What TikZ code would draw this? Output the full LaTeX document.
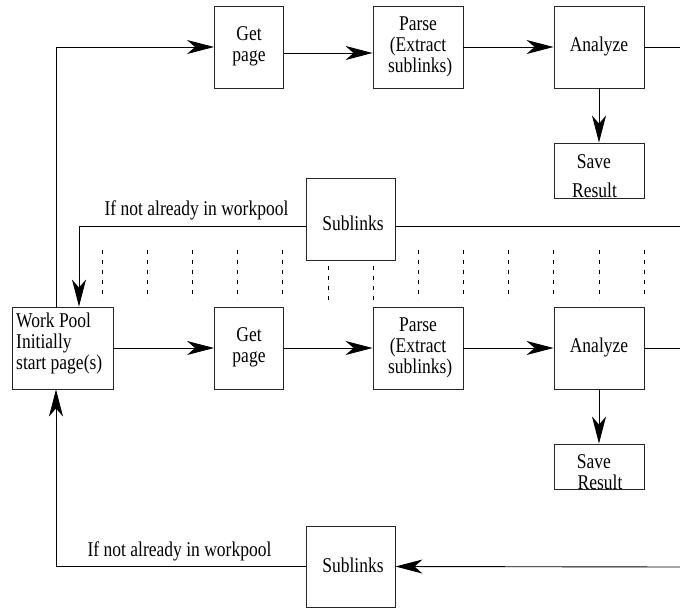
\documentclass[tikz,border=0pt]{standalone}
\usepackage{fontspec}
\setmainfont{Liberation Serif}
\usetikzlibrary{arrows.meta}
\newcommand\tb[2][c]{\scalebox{1}[1.2]{\begin{tabular}{@{}#1@{}}#2\end{tabular}}}
\begin{document}
\begin{tikzpicture}[x=1pt,y=-1pt,
  every node/.style={font=\fontsize{17.5}{17.5}\selectfont, inner sep=0pt},
  box/.style={draw=black!85, line width=0.9pt, minimum width=#1, rectangle},
  box/.default=90pt,
  conn/.style={line width=0.9pt},
  arr/.style={conn, -{Stealth[length=27pt,width=14pt,inset=8pt]}},
  dsh/.style={line width=0.7pt, dash pattern=on 4pt off 6pt}]
\useasboundingbox (0,0) rectangle (680,608);
% top row
\node[box=69pt, minimum height=82pt] (gp1) at (249,47) {\tb{Get\\page}};
\node[box, minimum height=82pt] (pa1) at (418,47) {\tb{Parse\\(Extract\\\ sublinks)}};
\node[box, minimum height=82pt] (an1) at (599,47) {\tb{Analyze}};
\node[box, minimum height=55pt] (sr1) at (599,170.5) {};
\node (sr1a) at (594,164) {\tb{Save}};
\node (sr1b) at (594.5,193) {\tb{Result}};
\node[box=89pt, minimum height=82pt] (sl1) at (350.5,219) {};
\node (sl1t) at (353,226) {\tb{Sublinks}};
\node (if1) at (196.5,211) {\tb{If not already in workpool}};
% middle row
\node[box=101pt, minimum height=82pt] (wp) at (62.5,348) {};
\node[anchor=west] (wpt) at (16,344) {\tb[l]{Work Pool\\Initially\\start page(s)}};
\node[box=69pt, minimum height=82pt] (gp2) at (249,348) {\tb{Get\\page}};
\node[box, minimum height=82pt] (pa2) at (418,348) {\tb{Parse\\(Extract\\\ sublinks)}};
\node[box, minimum height=82pt] (an2) at (599,348) {\tb{Analyze}};
\node[box, minimum height=45pt] (sr2) at (599,466.5) {};
\node (sr2a) at (594,464) {\tb{Save}};
\node (sr2b) at (600,485) {\tb{Result}};
% bottom
\node[box=89pt, minimum height=81pt] (sl2) at (350.5,566.5) {};
\node (sl2t) at (353,568) {\tb{Sublinks}};
\node (if2) at (179.5,552) {\tb{If not already in workpool}};
% right edge coordinates
\coordinate (r1) at (680,47);
\coordinate (r2) at (680,226);
\coordinate (r3) at (680,348);
\coordinate (r4) at (680,567);
% connectors
\draw[arr] ([xshift=-6.5pt]wp.north) |- (gp1.west);
\draw[arr] ([yshift=-6pt]gp1.east) -- ([yshift=-6pt]pa1.west);
\draw[arr] (pa1.east) -- (an1.west);
\draw[conn] (an1.east) -- (r1);
\draw[arr] (an1.south) -- (sr1.north);
\draw[conn] ([yshift=-7pt]sl1.east) -- (r2);
\draw[arr] ([yshift=-7pt]sl1.west) -| ([xshift=16.5pt]wp.north);
\draw[arr] (wp.east) -- (gp2.west);
\draw[arr] (gp2.east) -- (pa2.west);
\draw[arr] (pa2.east) -- (an2.west);
\draw[conn] (an2.east) -- (r3);
\draw[arr] (an2.south) -- (sr2.north);
\draw[arr] (r4) -- (sl2.east);
\draw[arr] (sl2.west) -| ([xshift=-6.5pt]wp.south);
% dashed separators
\foreach \i in {0,...,12}{
  \pgfmathsetmacro\xx{102+45.17*\i}
  \ifnum\i=5 \draw[dsh] (\xx,266) -- (\xx,300);
  \else\ifnum\i=6 \draw[dsh] (\xx,266) -- (\xx,300);
  \else \draw[dsh] (\xx,250) -- (\xx,300);
  \fi\fi
}
\end{tikzpicture}
\end{document}
